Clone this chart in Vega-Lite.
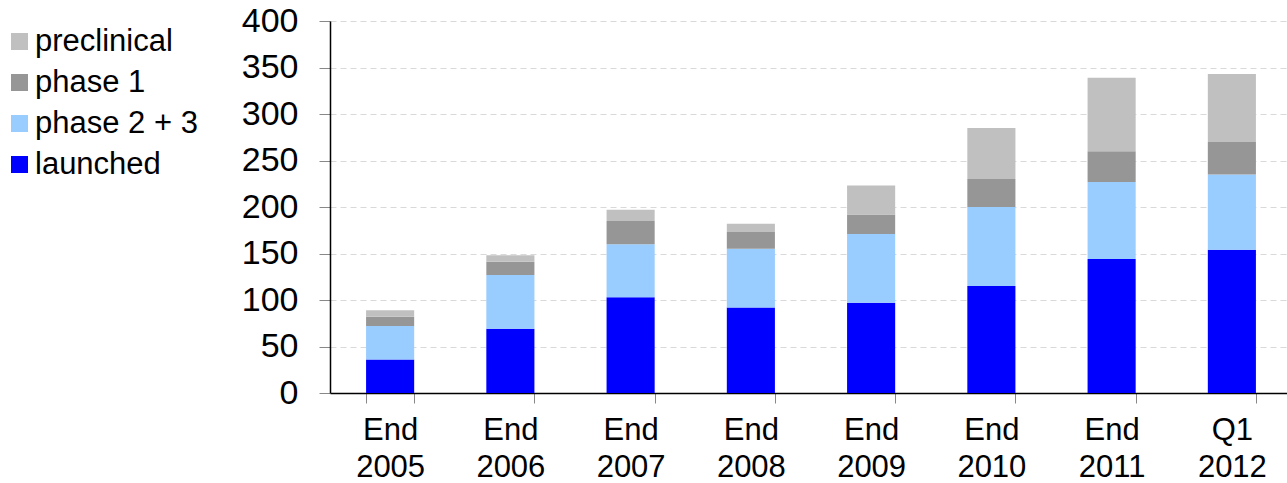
{
  "$schema": "https://vega.github.io/schema/vega-lite/v6.json",
  "width": 962,
  "height": 372,
  "autosize": {"type": "none"},
  "padding": {"left": 330, "top": 21, "right": 0, "bottom": 90},
  "background": "white",
  "data": {
    "values": [
      {"period": "End 2005", "stage": "launched", "value": 36},
      {"period": "End 2005", "stage": "phase 2 + 3", "value": 36},
      {"period": "End 2005", "stage": "phase 1", "value": 10},
      {"period": "End 2005", "stage": "preclinical", "value": 7},
      {"period": "End 2006", "stage": "launched", "value": 69},
      {"period": "End 2006", "stage": "phase 2 + 3", "value": 58},
      {"period": "End 2006", "stage": "phase 1", "value": 14},
      {"period": "End 2006", "stage": "preclinical", "value": 7},
      {"period": "End 2007", "stage": "launched", "value": 103},
      {"period": "End 2007", "stage": "phase 2 + 3", "value": 57},
      {"period": "End 2007", "stage": "phase 1", "value": 25},
      {"period": "End 2007", "stage": "preclinical", "value": 12},
      {"period": "End 2008", "stage": "launched", "value": 92},
      {"period": "End 2008", "stage": "phase 2 + 3", "value": 63},
      {"period": "End 2008", "stage": "phase 1", "value": 18},
      {"period": "End 2008", "stage": "preclinical", "value": 9},
      {"period": "End 2009", "stage": "launched", "value": 97},
      {"period": "End 2009", "stage": "phase 2 + 3", "value": 74},
      {"period": "End 2009", "stage": "phase 1", "value": 21},
      {"period": "End 2009", "stage": "preclinical", "value": 31},
      {"period": "End 2010", "stage": "launched", "value": 115},
      {"period": "End 2010", "stage": "phase 2 + 3", "value": 85},
      {"period": "End 2010", "stage": "phase 1", "value": 30},
      {"period": "End 2010", "stage": "preclinical", "value": 55},
      {"period": "End 2011", "stage": "launched", "value": 144},
      {"period": "End 2011", "stage": "phase 2 + 3", "value": 83},
      {"period": "End 2011", "stage": "phase 1", "value": 33},
      {"period": "End 2011", "stage": "preclinical", "value": 79},
      {"period": "Q1 2012", "stage": "launched", "value": 154},
      {"period": "Q1 2012", "stage": "phase 2 + 3", "value": 81},
      {"period": "Q1 2012", "stage": "phase 1", "value": 35},
      {"period": "Q1 2012", "stage": "preclinical", "value": 73}
    ]
  },
  "transform": [
    {"calculate": "indexof(['launched','phase 2 + 3','phase 1','preclinical'], datum.stage)", "as": "ord"}
  ],
  "mark": {"type": "bar"},
  "encoding": {
    "x": {
      "field": "period",
      "type": "nominal",
      "sort": null,
      "scale": {"paddingInner": 0.6, "paddingOuter": 0.3},
      "axis": {
        "title": null,
        "labelAngle": 0,
        "labelExpr": "split(datum.label, ' ')",
        "labelFont": "Liberation Sans",
        "labelFontSize": 31,
        "labelLineHeight": 37,
        "labelColor": "black",
        "labelPadding": 12,
        "labelLimit": 300,
        "tickBand": "extent",
        "tickSize": 10,
        "tickColor": "#888888",
        "domainColor": "black",
        "domainWidth": 1.5
      }
    },
    "y": {
      "field": "value",
      "type": "quantitative",
      "stack": "zero",
      "scale": {"domain": [0, 400]},
      "axis": {
        "title": null,
        "values": [0, 50, 100, 150, 200, 250, 300, 350, 400],
        "labelFont": "Liberation Sans",
        "labelFontSize": 34,
        "labelColor": "black",
        "labelPadding": 21,
        "tickSize": 11,
        "tickColor": "#888888",
        "domainColor": "black",
        "domainWidth": 1.5,
        "grid": true,
        "gridColor": "#d9d9d9",
        "gridDash": [6, 4],
        "gridWidth": 1
      }
    },
    "color": {
      "field": "stage",
      "type": "nominal",
      "scale": {
        "domain": ["preclinical", "phase 1", "phase 2 + 3", "launched"],
        "range": ["#C0C0C0", "#969696", "#99CCFF", "#0000FF"]
      },
      "legend": {
        "title": null,
        "orient": "none",
        "legendX": -326,
        "legendY": 5,
        "symbolType": "square",
        "symbolSize": 289,
        "symbolStrokeWidth": 0,
        "symbolOpacity": 1,
        "labelFont": "Liberation Sans",
        "labelFontSize": 31,
        "labelColor": "black",
        "labelOffset": 0,
        "labelLimit": 400,
        "rowPadding": 9
      }
    },
    "order": {"field": "ord", "type": "quantitative"}
  },
  "config": {
    "view": {"stroke": null}
  }
}
